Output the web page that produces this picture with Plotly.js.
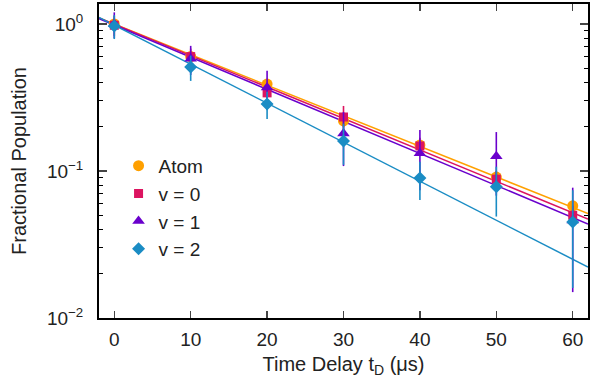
<!DOCTYPE html>
<html><head><meta charset="utf-8">
<script src="https://cdn.plot.ly/plotly-3.0.1.min.js"></script>
<style>html,body{margin:0;padding:0;background:#fff}#c{width:602px;height:388px}</style>
</head><body><div id="c"></div>
<script>
const timeDelay = [0, 10, 20, 30, 40, 50, 60];
const atomPop = [1.0, 0.60, 0.39, 0.219, 0.15, 0.091, 0.058];
const atomErr = [0.08, 0.05, 0.03, 0.02, 0.012, 0.008, 0.005];
const v0Pop = [0.98, 0.60, 0.34, 0.233, 0.148, 0.088, 0.050];
const v0Err = [0.15, 0.08, 0.05, 0.044, 0.02, 0.012, 0.008];
const v1Pop = [1.0, 0.58, 0.37, 0.18, 0.132, 0.126, 0.046];
const v1Err = [0.2, 0.13, 0.11, 0.072, 0.058, 0.058, 0.031];
const v2Pop = [0.97, 0.51, 0.286, 0.16, 0.0896, 0.078, 0.045];
const v2Err = [0.18, 0.1, 0.06, 0.05, 0.026, 0.029, 0.029];
const fitX = [-2, 62];
const atomFit = [1.10, 0.0513];
const v0Fit = [1.10, 0.0471];
const v1Fit = [1.085, 0.0436];
const v2Fit = [1.11, 0.0222];
const seriesNames = ['Atom', 'v = 0', 'v = 1', 'v = 2'];
const colors = ['#FFA000', '#DC1460', '#6A00CC', '#1A8CC4'];
const symbols = ['circle', 'square', 'triangle-up', 'diamond'];
const sizes = [11, 9, 11, 10];
const pops = [atomPop, v0Pop, v1Pop, v2Pop];
const errs = [atomErr, v0Err, v1Err, v2Err];
const fits = [atomFit, v0Fit, v1Fit, v2Fit];

const traces = [];
for (let i = 0; i < 4; i++) {
  traces.push({x: fitX, y: fits[i], mode: 'lines', line: {color: colors[i], width: 1.5}, showlegend: false, hoverinfo: 'skip'});
}
for (let i = 0; i < 4; i++) {
  traces.push({x: timeDelay, y: pops[i], mode: 'markers', name: seriesNames[i],
    marker: {color: colors[i], symbol: symbols[i], size: sizes[i]},
    error_y: {type: 'data', array: errs[i], color: colors[i], thickness: 1.6, width: 0}});
}
const minorVals = [];
[0.01, 0.1].forEach(d => { for (let k = 2; k <= 9; k++) minorVals.push(k * d); });

const layout = {
  width: 602, height: 388,
  margin: {l: 99, r: 14, t: 4, b: 70},
  paper_bgcolor: '#fff', plot_bgcolor: '#fff',
  font: {family: 'Liberation Sans, Arial, sans-serif', size: 19, color: '#222'},
  showlegend: true,
  legend: {x: 0.04, y: 0.545, xanchor: 'left', yanchor: 'top', bgcolor: 'rgba(0,0,0,0)',
    font: {size: 19}, itemwidth: 30},
  xaxis: {range: [-2, 62], tickvals: timeDelay, ticks: 'inside', ticklen: 7, tickwidth: 1.5,
    showline: true, linewidth: 2, linecolor: '#000', mirror: 'allticks', showgrid: false, zeroline: false,
    ticklabelstandoff: 3, tickfont: {size: 19},
    title: {text: 'Time Delay t<sub>D</sub> (μs)', standoff: 8, font: {size: 20}}},
  yaxis: {type: 'log', range: [-2, 0.136], tickmode: 'array', tickvals: [0.01, 0.1, 1],
    ticktext: ['10<sup>−2</sup>', '10<sup>−1</sup>', '10<sup>0</sup>'],
    ticks: 'inside', ticklen: 8, tickwidth: 1.5,
    minor: {tickmode: 'array', tickvals: minorVals, ticks: 'inside', ticklen: 4, tickwidth: 1.2, tickcolor: '#000', showgrid: false},
    showline: true, linewidth: 2, linecolor: '#000', mirror: 'allticks', showgrid: false, zeroline: false,
    ticklabelstandoff: 10, tickfont: {size: 19},
    title: {text: 'Fractional Population', standoff: 15, font: {size: 20}}}
};
Plotly.newPlot('c', traces, layout, {displayModeBar: false, staticPlot: true});
</script></body></html>
